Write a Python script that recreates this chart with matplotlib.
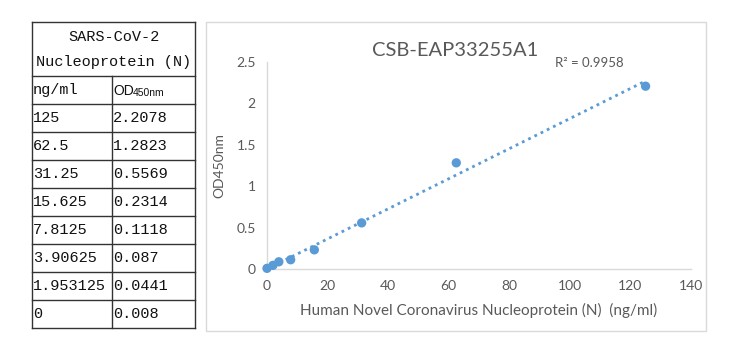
import numpy as np
import matplotlib.pyplot as plt
from matplotlib.patches import Rectangle

# ------------------ data ------------------
conc_labels = ["125", "62.5", "31.25", "15.625", "7.8125", "3.90625", "1.953125", "0"]
od_labels = ["2.2078", "1.2823", "0.5569", "0.2314", "0.1118", "0.087", "0.0441", "0.008"]
conc = np.array([float(c) for c in conc_labels])
od = np.array([float(v) for v in od_labels])

x_ticks = [0, 20, 40, 60, 80, 100, 120, 140]
y_ticks = [0, 0.5, 1, 1.5, 2, 2.5]
y_tick_labels = ["0", "0.5", "1", "1.5", "2", "2.5"]

title = "CSB-EAP33255A1"
r2_text = "R² = 0.9958"
x_label = "Human Novel Coronavirus Nucleoprotein (N)  (ng/ml)"
y_label = "OD450nm"

W, H = 741, 352
blue = "#5B9BD5"
gray_txt = "#595959"
axis_gray = "#D9D9D9"

fig = plt.figure(figsize=(W / 100, H / 100), dpi=100)

# ------------------ overlay axes in pixel coords (table + chart frame) ------------------
ov = fig.add_axes([0, 0, 1, 1])
ov.set_xlim(0, W)
ov.set_ylim(H, 0)
ov.axis("off")

# chart frame
ov.add_patch(Rectangle((206, 22), 500, 309, fill=False, edgecolor=axis_gray, lw=1.0))

# table grid
tl, tr, tc = 32, 195, 112
top = 22
row_lines = [76, 104, 132, 160, 188, 216, 244, 272, 300, 328]
lc = "#333333"
ov.plot([tl, tr], [top, top], color=lc, lw=1)
for y in row_lines:
    ov.plot([tl, tr], [y, y], color=lc, lw=1)
ov.plot([tl, tl], [top, row_lines[-1]], color=lc, lw=1)
ov.plot([tr, tr], [top, row_lines[-1]], color=lc, lw=1)
ov.plot([tc, tc], [row_lines[0], row_lines[-1]], color=lc, lw=1)

mono = "Liberation Mono"
tfs = 11
tcol = "#111111"
ov.text((tl + tr) / 2, 37, "SARS-CoV-2", ha="center", va="center", family=mono, fontsize=tfs, color=tcol)
ov.text((tl + tr) / 2, 62, "Nucleoprotein (N)", ha="center", va="center", family=mono, fontsize=tfs, color=tcol)
hy = (row_lines[0] + row_lines[1]) / 2
ov.text(tl + 1, hy, "ng/ml", ha="left", va="center", family=mono, fontsize=tfs, color=tcol)
ov.text(tc + 1, hy + 1, "OD", ha="left", va="center", family="Liberation Sans", fontsize=10, color=tcol)
ov.text(tc + 21, hy + 3, "450nm", ha="left", va="center", family="Liberation Sans", fontsize=7.5, color=tcol)
for i, (c, v) in enumerate(zip(conc_labels, od_labels)):
    yc = (row_lines[i + 1] + row_lines[i + 2]) / 2
    ov.text(tl + 1, yc, c, ha="left", va="center", family=mono, fontsize=tfs, color=tcol)
    ov.text(tc + 1, yc, v, ha="left", va="center", family=mono, fontsize=tfs, color=tcol)

# ------------------ scatter chart ------------------
ax = fig.add_axes([267 / W, 1 - 269 / H, (691 - 267) / W, (269 - 62) / H])
ax.set_xlim(0, 140)
ax.set_ylim(0, 2.5)

# linear trendline through the origin
slope = np.sum(conc * od) / np.sum(conc * conc)
xs = np.array([conc.min(), conc.max()])
ax.plot(xs, slope * xs, linestyle=(0, (1, 1.5)), color=blue, lw=2.0, clip_on=False)
ax.scatter(conc, od, s=45, color=blue, zorder=3, edgecolors="none", clip_on=False)

for s in ["top", "right"]:
    ax.spines[s].set_visible(False)
for s in ["left", "bottom"]:
    ax.spines[s].set_color(axis_gray)
    ax.spines[s].set_linewidth(1.0)
ax.set_xticks(x_ticks)
ax.set_yticks(y_ticks)
ax.set_yticklabels(y_tick_labels)
ax.tick_params(length=0, labelsize=10, labelcolor=gray_txt, pad=8)
for lab in ax.get_xticklabels() + ax.get_yticklabels():
    lab.set_family("Lato")
ax.patch.set_alpha(0)

ax.set_xlabel(x_label, family="Lato", fontsize=11, color=gray_txt, labelpad=8)
ax.set_ylabel(y_label, family="Lato", fontsize=10, color=gray_txt, labelpad=8)

ov.text(455, 50, title, ha="center", va="center", family="Lato", fontsize=14.5, color=gray_txt)
ov.text(555, 63, r2_text, ha="left", va="center", family="Lato", fontsize=9.5, color=gray_txt)

fig.savefig("out.png", dpi=100)
